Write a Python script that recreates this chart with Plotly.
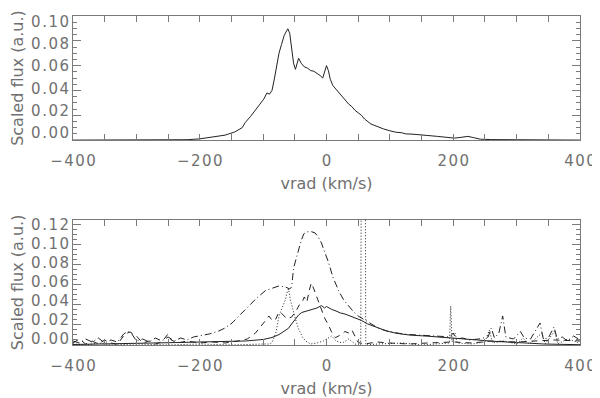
import plotly.graph_objects as go
from plotly.subplots import make_subplots

# ---- top panel: total profile
v_top = [-400, -300, -220, -200, -190, -180, -170, -160, -154, -145, -133, -128, -120,
         -112, -105, -99, -94, -90, -86, -82, -78, -75, -71, -67, -64, -61, -58, -55,
         -52, -49, -46, -44, -40, -35, -30, -25, -20, -15, -10, -6, -3, 0, 3, 6, 10,
         15, 20, 25, 29, 35, 40, 45, 50, 55, 60, 65, 70, 75, 82, 90, 100, 110, 118,
         125, 135, 145, 160, 175, 190, 202, 212, 223, 232, 243, 260, 280, 300, 330,
         360, 400]
flux_top = [0.0, 0.0, 0.0003, 0.001, 0.0018, 0.0024, 0.003, 0.004, 0.005, 0.0065, 0.010,
            0.0143, 0.019, 0.0248, 0.029, 0.033, 0.038, 0.037, 0.040, 0.050, 0.061,
            0.070, 0.077, 0.084, 0.087, 0.0897, 0.086, 0.075, 0.062, 0.057, 0.062,
            0.066, 0.062, 0.059, 0.058, 0.056, 0.0555, 0.054, 0.052, 0.050, 0.055,
            0.060, 0.056, 0.049, 0.044, 0.041, 0.038, 0.035, 0.033, 0.029, 0.027,
            0.024, 0.022, 0.020, 0.017, 0.015, 0.013, 0.012, 0.0103, 0.009, 0.0075,
            0.0063, 0.006, 0.005, 0.0048, 0.0042, 0.0037, 0.003, 0.0022, 0.0016,
            0.0022, 0.003, 0.002, 0.0007, 0.0004, 0.0003, 0.0002, 0.0003, 0.0001, 0.0]

# ---- bottom panel: components
v_solid = [-400, -350, -300, -250, -232, -200, -160, -128, -100, -86, -75, -68, -60, -55,
           -49, -44, -39, -30, -23, -15, -8, -3, 0, 8, 15, 22, 29, 40, 55, 65, 82, 95,
           108, 130, 160, 196, 220, 238, 260, 290, 320, 343, 370, 400]
f_solid = [0.0005, 0.001, 0.0012, 0.002, 0.0025, 0.003, 0.0035, 0.004, 0.0055, 0.0075,
           0.0104, 0.013, 0.0167, 0.021, 0.026, 0.030, 0.0325, 0.034, 0.0356, 0.037,
           0.0394, 0.037, 0.0385, 0.0356, 0.034, 0.032, 0.031, 0.028, 0.0246, 0.021,
           0.0167, 0.014, 0.012, 0.010, 0.0088, 0.0073, 0.006, 0.005, 0.0038, 0.0025,
           0.0018, 0.001, 0.0005, 0.0003]

v_dashdot = [-400, -390, -380, -370, -360, -350, -340, -330, -320, -314, -308, -300, -290,
             -280, -270, -260, -250, -240, -230, -220, -210, -200, -185, -170, -160, -149,
             -140, -130, -122, -110, -96, -85, -75, -65, -58, -55, -52, -48, -44, -40,
             -36, -31, -25, -18, -13, -8, -3, 3, 10, 19, 27, 35, 43, 50, 58, 66, 74, 82,
             95, 108, 120, 133, 150, 170, 185, 195, 200, 205, 215, 225, 240, 255, 260,
             265, 272, 278, 283, 295, 306, 312, 322, 337, 342, 350, 359, 364, 372, 380,
             390, 400]
f_dashdot = [0.004, 0.002, 0.006, 0.003, 0.007, 0.002, 0.005, 0.003, 0.011, 0.0135, 0.012,
             0.004, 0.006, 0.003, 0.007, 0.004, 0.008, 0.004, 0.007, 0.005, 0.008, 0.009,
             0.011, 0.014, 0.017, 0.022, 0.028, 0.034, 0.040, 0.047, 0.0545, 0.057,
             0.059, 0.058, 0.056, 0.058, 0.0766, 0.086, 0.0955, 0.104, 0.111, 0.113,
             0.1135, 0.112, 0.108, 0.102, 0.093, 0.083, 0.068, 0.0545, 0.045, 0.0388,
             0.033, 0.029, 0.026, 0.023, 0.020, 0.0167, 0.014, 0.0125, 0.011, 0.0104,
             0.0095, 0.009, 0.0085, 0.008, 0.012, 0.006, 0.007, 0.005, 0.006, 0.008,
             0.017, 0.007, 0.012, 0.029, 0.008, 0.006, 0.0135, 0.007, 0.006, 0.022,
             0.006, 0.007, 0.018, 0.006, 0.008, 0.004, 0.009, 0.005]

v_dash = [-400, -390, -380, -370, -360, -350, -340, -330, -318, -310, -300, -290, -280,
          -270, -260, -250, -245, -235, -220, -200, -180, -160, -140, -125, -112, -104,
          -96, -91, -85, -80, -75, -70, -62, -55, -48, -43, -39, -35, -31, -27, -24, -20,
          -15, -11, -8, -3, 3, 8, 14, 20, 25, 29, 35, 40, 45, 50, 60, 80, 100, 130, 160,
          200, 230, 260, 300, 330, 360, 400]
f_dash = [0.002, 0.006, 0.001, 0.004, 0.001, 0.005, 0.002, 0.0005, 0.011, 0.013, 0.009,
          0.002, 0.004, 0.001, 0.003, 0.011, 0.005, 0.002, 0.004, 0.002, 0.003, 0.002,
          0.004, 0.006, 0.012, 0.018, 0.0246, 0.029, 0.024, 0.026, 0.033, 0.031, 0.026,
          0.028, 0.034, 0.040, 0.042, 0.048, 0.043, 0.055, 0.062, 0.056, 0.048, 0.040,
          0.0356, 0.027, 0.020, 0.013, 0.0073, 0.009, 0.011, 0.0135, 0.012, 0.015,
          0.008, 0.0025, 0.001, 0.003, 0.002, 0.001, 0.002, 0.003, 0.002, 0.004, 0.003,
          0.004, 0.005, 0.004]

v_dot = [-400, -380, -360, -340, -300, -250, -200, -150, -100, -90, -86, -80, -75, -70,
         -65, -62, -60, -57, -53, -49, -44, -38, -33, -25, -15, -5, 0, 8, 15, 25, 35, 45,
         54, 55, 61, 62, 80, 120, 150, 180, 194, 196, 198, 203, 206, 230, 250, 257, 262,
         280, 300, 310, 320, 340, 345, 360, 365, 380, 395, 400]
f_dot = [0.001, 0.0, 0.002, 0.0, 0.001, 0.0, 0.001, 0.0, 0.001, 0.001, 0.0025, 0.012,
         0.029, 0.038, 0.045, 0.053, 0.056, 0.045, 0.035, 0.026, 0.016, 0.008, 0.004,
         0.001, 0.002, 0.004, 0.006, 0.009, 0.004, 0.002, 0.006, 0.001, 0.0, 0.2, 0.2,
         0.0, 0.001, 0.002, 0.0, 0.001, 0.002, 0.039, 0.003, 0.012, 0.002, 0.001, 0.003,
         0.015, 0.002, 0.004, 0.001, 0.007, 0.001, 0.012, 0.001, 0.014, 0.001, 0.006,
         0.003, 0.0]

# tick labels
x_ticks = [-400, -200, 0, 200, 400]
x_labels = ["\u2212400", "\u2212200", "0", "200", "400"]
y_top_ticks = [0.0, 0.02, 0.04, 0.06, 0.08, 0.10]
y_bot_ticks = [0.0, 0.02, 0.04, 0.06, 0.08, 0.10, 0.12]

LINE = "#222222"
AXIS = "#7a7a7a"
TEXT = "#707070"
FONT = "DejaVu Sans"


def spaced(s):
    # Hershey-like wide label look
    return "\u200a".join(s)


fig = make_subplots(rows=2, cols=1, vertical_spacing=0.0)

fig.add_trace(go.Scatter(x=v_top, y=flux_top, mode="lines",
                         line=dict(color=LINE, width=1)), row=1, col=1)

fig.add_trace(go.Scatter(x=v_solid, y=f_solid, mode="lines",
                         line=dict(color=LINE, width=1)), row=2, col=1)
fig.add_trace(go.Scatter(x=v_dashdot, y=f_dashdot, mode="lines",
                         line=dict(color=LINE, width=1, dash="7px,3px,1px,3px")),
              row=2, col=1)
fig.add_trace(go.Scatter(x=v_dash, y=f_dash, mode="lines",
                         line=dict(color=LINE, width=1, dash="6px,5px")), row=2, col=1)
fig.add_trace(go.Scatter(x=v_dot, y=f_dot, mode="lines",
                         line=dict(color=LINE, width=1, dash="1px,2px")), row=2, col=1)

# invisible anchors so the label-only axes get drawn
fig.add_trace(go.Scatter(x=[x_ticks[0]] * len(y_top_ticks), y=y_top_ticks, xaxis="x",
                         yaxis="y3", mode="markers", marker=dict(opacity=0),
                         hoverinfo="skip"))
fig.add_trace(go.Scatter(x=[x_ticks[0]] * len(y_bot_ticks), y=y_bot_ticks, xaxis="x2",
                         yaxis="y4", mode="markers", marker=dict(opacity=0),
                         hoverinfo="skip"))

axis_common = dict(showline=True, linecolor=AXIS, linewidth=1, mirror="allticks",
                   ticks="inside", tickcolor=AXIS, showgrid=False, zeroline=False,
                   ticklabeloverflow="allow",
                   tickfont=dict(family=FONT, size=15, color=TEXT))

xkw = dict(axis_common, range=[-400, 400], tickvals=x_ticks,
           ticktext=[spaced(t) for t in x_labels], ticklen=6, ticklabelstandoff=7,
           minor=dict(dtick=50, ticklen=3, ticks="inside", tickcolor=AXIS),
           title=dict(text="vrad (km/s)", standoff=8,
                      font=dict(family=FONT, size=16, color=TEXT)))
fig.update_xaxes(**xkw, row=1, col=1)
fig.update_xaxes(**xkw, row=2, col=1)

# frame axes: ticks only
fig.update_yaxes(axis_common, range=[0, 0.10], tickvals=y_top_ticks, showticklabels=False,
                 ticklen=8,
                 minor=dict(dtick=0.005, ticklen=4, ticks="inside", tickcolor=AXIS),
                 domain=[0.6228, 1.0], row=1, col=1)
fig.update_yaxes(axis_common, range=[0, 0.125], tickvals=y_bot_ticks, showticklabels=False,
                 ticklen=8,
                 minor=dict(dtick=0.005, ticklen=4, ticks="inside", tickcolor=AXIS),
                 domain=[0.0, 0.3802], row=2, col=1)

# label axes: the reference's labels sit slightly pulled in toward the panel centre
ytitle = dict(text="Scaled flux (a.u.)", standoff=4,
              font=dict(family=FONT, size=16, color=TEXT))
label_axis = dict(showline=False, ticks="", showgrid=False, zeroline=False,
                  ticklabeloverflow="allow", ticklabelstandoff=3, side="left",
                  tickfont=dict(family=FONT, size=15, color=TEXT), title=ytitle)
fig.update_layout(
    yaxis3=dict(label_axis, overlaying="y", anchor="x", range=[-0.0062, 0.105],
                tickvals=y_top_ticks,
                ticktext=[spaced(f"{t:.2f}") for t in y_top_ticks]),
    yaxis4=dict(label_axis, overlaying="y2", anchor="x2", range=[-0.0062, 0.1252],
                tickvals=y_bot_ticks,
                ticktext=[spaced(f"{t:.2f}") for t in y_bot_ticks]),
)

# page body has an 8px margin, so size the figure to land the axes where they belong
fig.update_layout(width=592, height=390, showlegend=False,
                  paper_bgcolor="white", plot_bgcolor="white",
                  margin=dict(l=65, r=17, t=4, b=52))

fig.write_html("out.html")
